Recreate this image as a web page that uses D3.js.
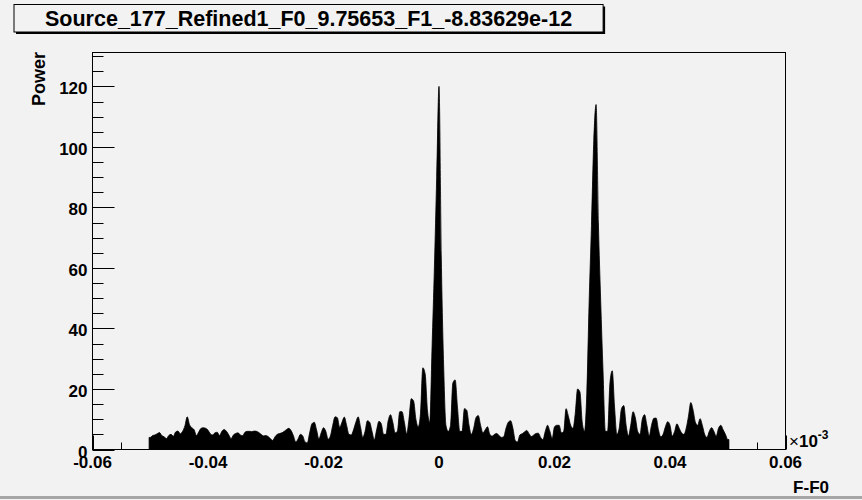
<!DOCTYPE html>
<html><head><meta charset="utf-8">
<script src="https://cdn.jsdelivr.net/npm/d3@7"></script>
<style>
body{margin:0;background:#f2f2f2;}
svg{display:block;}
text{font-family:"Liberation Sans",Arial,Helvetica,sans-serif;font-weight:bold;fill:#000;}
</style></head><body>
<svg id="c" width="862" height="500"></svg>
<script>
// ---- data ----
const title = "Source_177_Refined1_F0_9.75653_F1_-8.83629e-12";
const xTitle = "F-F0";
const yTitle = "Power";
// histogram definition: nBins equal bins between xMin and xMax
const nBins = 251, xMin = -0.0502, xMax = 0.0502;
const power = [
 4.0,4.6,4.8,5.2,5.6,4.6,4.2,3.6,4.6,5.0,
 4.4,5.8,6.1,5.2,6.0,7.8,10.8,8.2,7.2,6.5,
 4.6,5.8,7.0,7.2,7.0,6.4,5.2,4.8,5.5,5.7,
 4.6,6.0,6.6,6.0,4.8,3.6,4.8,5.3,5.5,4.8,
 4.6,5.7,6.0,6.0,5.9,6.1,6.0,5.6,5.0,4.5,
 4.6,4.3,3.6,3.0,4.2,5.0,5.3,5.5,6.0,6.6,
 7.0,6.2,4.5,2.5,3.5,5.0,4.5,2.5,2.2,5.5,
 8.5,9.0,6.5,3.5,5.5,7.2,6.0,3.4,4.5,8.0,
 10.8,10.5,7.3,9.0,10.7,8.0,5.0,4.8,6.5,9.0,
 10.8,7.5,4.0,6.0,9.5,9.0,6.0,3.2,6.5,9.3,
 8.5,5.0,5.0,9.5,11.5,9.0,5.5,6.0,12.5,12.5,
 9.0,5.2,10.0,16.8,16.0,10.0,7.5,12.0,27.0,25.0,
 13.0,9.0,34.0,60.0,90.0,120.0,63.0,28.0,8.0,6.0,
 8.0,22.0,23.0,14.0,6.0,6.0,13.5,13.0,8.0,5.0,
 7.0,10.5,11.2,8.0,5.5,6.5,7.5,5.0,4.4,5.0,
 5.3,4.6,4.0,4.2,7.0,9.0,9.5,7.0,3.0,2.5,
 4.8,5.2,5.8,6.3,5.2,4.3,4.8,5.3,5.4,4.0,
 3.3,6.0,8.0,6.0,3.6,7.5,8.0,8.0,5.5,6.0,
 13.5,11.0,8.0,7.0,12.0,20.0,19.0,9.0,6.0,19.0,
 49.0,74.0,102.0,114.0,75.0,49.0,26.0,6.0,6.0,22.0,
 26.0,14.0,5.0,7.0,13.5,14.5,8.0,4.5,8.0,12.5,
 10.5,6.0,5.0,10.0,11.5,8.0,4.5,8.0,10.3,10.4,
 6.5,4.2,5.0,7.5,9.2,8.0,4.4,6.0,8.5,7.0,
 5.5,5.0,7.0,11.0,15.5,13.0,9.0,8.0,10.2,8.0,
 5.0,4.0,6.0,7.2,6.0,4.4,7.0,8.0,6.5,5.0,
 3.3
];
const xTicks = [-0.06,-0.04,-0.02,0,0.02,0.04,0.06];
const xTickLabels = ["-0.06","-0.04","-0.02","0","0.02","0.04","0.06"];
const yTicks = [0,20,40,60,80,100,120];
const yTickLabels = ["0","20","40","60","80","100","120"];
const xDomain = [-0.06, 0.06];
const yDomain = [0, 131.2];

// ---- drawing ----
const svg = d3.select("#c");
const L = 92.5, R = 785.5, T = 52.5, B = 449.5;
const x = d3.scaleLinear().domain(xDomain).range([L, R]);
const y = d3.scaleLinear().domain(yDomain).range([B, T]);

svg.append("rect").attr("width",862).attr("height",500).attr("fill","#f2f2f2");
// canvas bottom bevel
svg.append("rect").attr("x",0).attr("y",496).attr("width",862).attr("height",3).attr("fill","#a6a6a6");

// ticks (under histogram)
const g = svg.append("g");
const yMinor = d3.range(0, 131, 5);
g.selectAll(".ym").data(yMinor).join("line")
  .attr("x1",L).attr("x2",d => L + (d % 20 === 0 ? 22 : 11))
  .attr("y1",d => Math.round(y(d)) + 0.5).attr("y2",d => Math.round(y(d)) + 0.5)
  .attr("stroke","#000").attr("stroke-width",1);
const xMinorT = d3.range(-0.06, 0.0601, 0.005);
g.selectAll(".xm").data(xMinorT).join("line")
  .attr("x1",d => Math.round(x(d)) + 0.5).attr("x2",d => Math.round(x(d)) + 0.5)
  .attr("y1",B).attr("y2",(d,i) => B - (i % 4 === 0 ? 14 : 7))
  .attr("stroke","#000").attr("stroke-width",1);

// histogram
const bw = (xMax - xMin) / nBins;
const pts = [{v: xMin, p: power[0]}]
  .concat(power.map((p, i) => ({v: xMin + (i + 0.5) * bw, p})))
  .concat([{v: xMax, p: power[power.length - 1]}]);
const area = d3.area().x(d => x(d.v)).y0(y(0)).y1(d => y(d.p)).curve(d3.curveMonotoneX);
svg.append("path").datum(pts).attr("d", area).attr("fill","#000").attr("stroke","#000").attr("stroke-width",0.8);

// frame
svg.append("rect").attr("x",L).attr("y",T).attr("width",R-L).attr("height",B-T)
  .attr("fill","none").attr("stroke","#000").attr("stroke-width",1);

// tick labels
svg.selectAll(".yl").data(yTicks).join("text")
  .attr("x",87.5).attr("y",d => y(d) + 8).attr("text-anchor","end")
  .attr("font-size",17).text((d,i) => yTickLabels[i]);
svg.selectAll(".xl").data(xTicks).join("text")
  .attr("x",d => x(d)).attr("y",468).attr("text-anchor","middle")
  .attr("font-size",17).text((d,i) => xTickLabels[i]);

// exponent
const ex = svg.append("text").attr("x",789).attr("y",447).attr("font-size",17);
ex.append("tspan").attr("font-weight","normal").text("\u00d7");
ex.append("tspan").attr("font-weight","bold").text("10");
ex.append("tspan").attr("font-size",12).attr("dy",-8).text("-3");

// axis titles
svg.append("text").attr("x",829).attr("y",493).attr("text-anchor","end").attr("font-size",17).text(xTitle);
svg.append("text").attr("transform","translate(45,52) rotate(-90)").attr("text-anchor","end")
  .attr("font-size",18).text(yTitle);

// title box
const tt = svg.append("text").attr("x",45).attr("y",26).attr("font-size",21.5).text(title);
const tw = tt.node().getComputedTextLength();
const bx = 14, by = 4.5, bwid = tw + 2 * (45 - bx), bh = 27.5;
svg.insert("rect", "text").attr("x",bx + 2).attr("y",by + 2).attr("width",bwid).attr("height",bh).attr("fill","#000");
svg.insert("rect", "text").attr("x",bx).attr("y",by).attr("width",bwid).attr("height",bh)
  .attr("fill","#f2f2f2").attr("stroke","#000").attr("stroke-width",1);
</script>
</body></html>
